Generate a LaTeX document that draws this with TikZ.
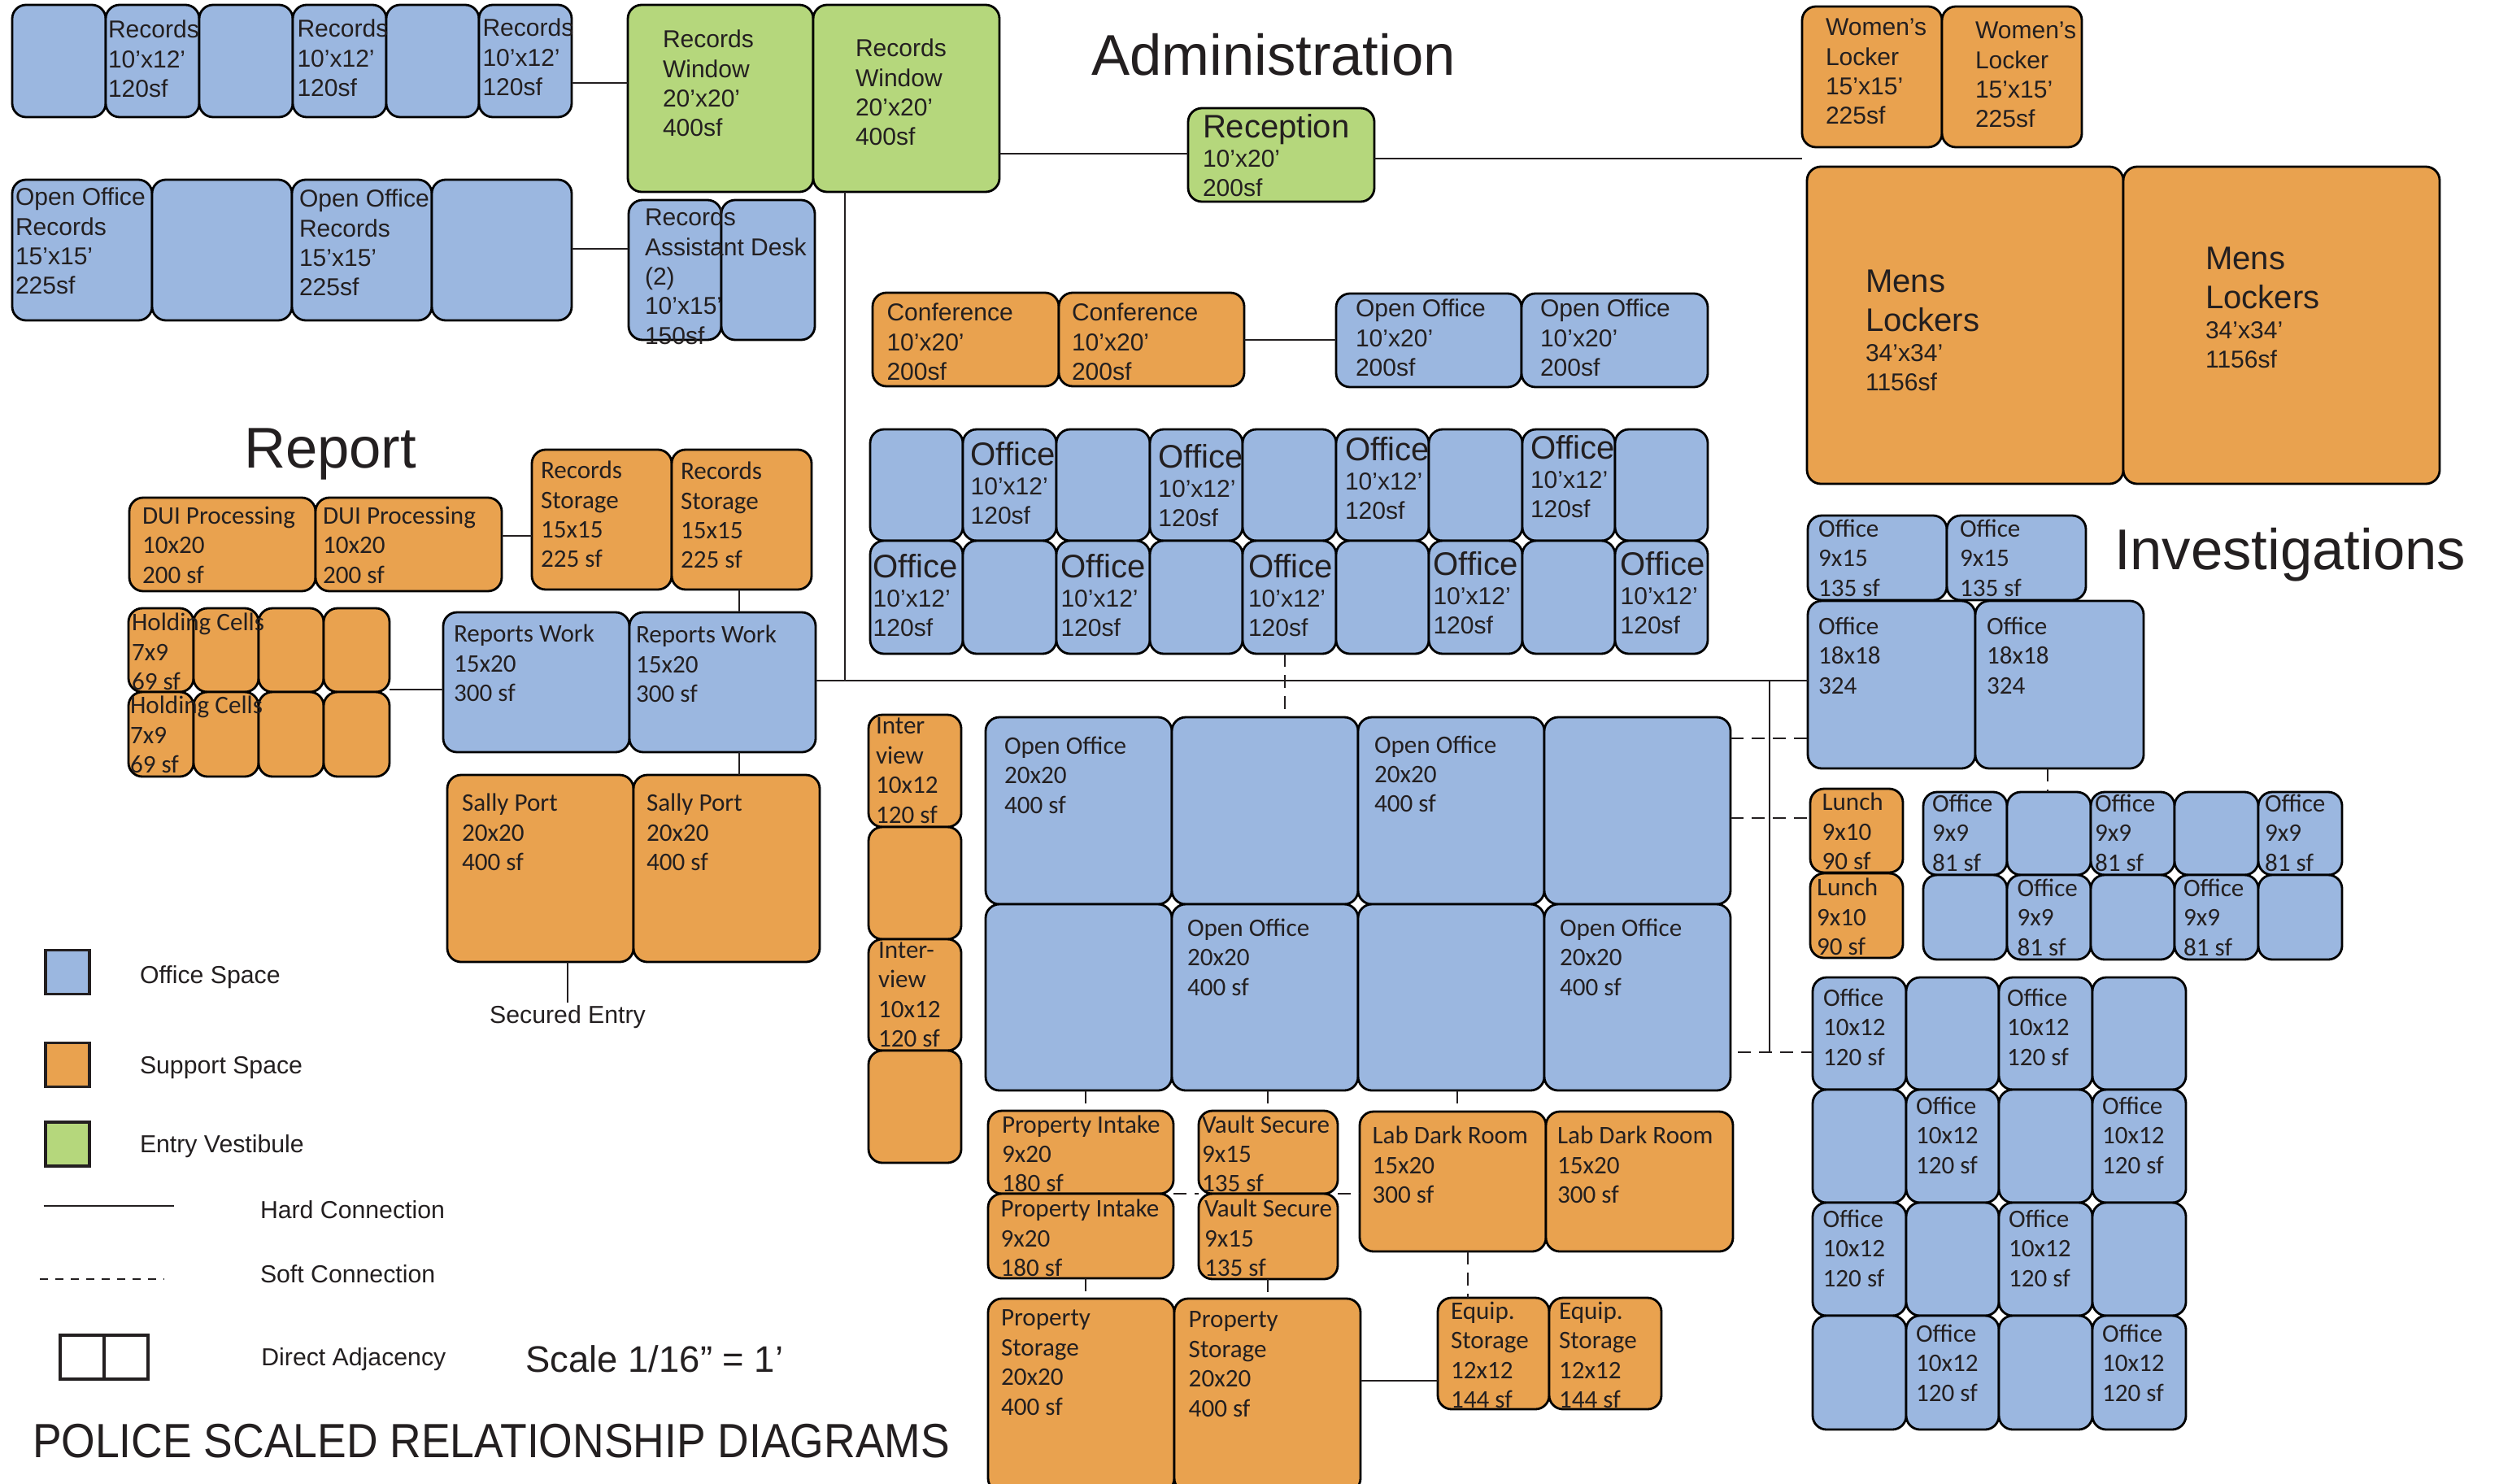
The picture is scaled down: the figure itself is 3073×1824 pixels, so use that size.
\documentclass[tikz,border=0pt]{standalone}
\usepackage{fontspec}
\setmainfont{Liberation Sans}
\newfontfamily\myr{Carlito}
\newfontfamily\titlefnt[FakeStretch=0.905]{Liberation Sans}
\definecolor{ink}{RGB}{35,31,32}
\definecolor{officeblue}{RGB}{155,183,224}
\definecolor{supportorange}{RGB}{233,162,79}
\definecolor{entrygreen}{RGB}{181,215,124}
\newcommand{\bigoff}[1]{{\fontsize{11.4}{10.35}\selectfont #1}}
\newcommand{\room}[6]{\node[room,#6,minimum width={(#4-#2)*0.01cm},minimum height={(#5-#3)*0.01cm}] (#1) at ({(#2+#4)/2},{(#3+#5)/2}) {};}
\tikzset{
  room/.style={draw=black,line width=0.8pt,rounded corners=0.17cm,inner sep=0pt,outer sep=0pt},
  blueroom/.style={fill=officeblue},
  orangeroom/.style={fill=supportorange},
  greenroom/.style={fill=entrygreen},
  swatch/.style={draw=ink,line width=0.9pt,inner sep=0pt,outer sep=0pt,minimum width=0.54cm,minimum height=0.54cm},
  atext/.style={anchor=north west,inner sep=0pt,outer sep=0pt,align=left,text=ink,font=\fontsize{8.54}{10.35}\selectfont},
  mtext/.style={anchor=north west,inner sep=0pt,outer sep=0pt,align=left,text=ink,font=\myr\fontsize{8.85}{10.35}\selectfont},
  keytext/.style={anchor=base west,inner sep=0pt,outer sep=0pt,text=ink,font=\fontsize{8.6}{10.5}\selectfont},
  headtext/.style={anchor=base west,inner sep=0pt,outer sep=0pt,text=ink,font=\fontsize{20.1}{24}\selectfont},
  hard/.style={draw=ink,line width=0.7pt},
  soft/.style={draw=ink,line width=0.7pt,dash pattern=on 0.16cm off 0.1cm},
}
\begin{document}
\begin{tikzpicture}[x=0.01cm,y=-0.01cm]
\useasboundingbox (0,0) rectangle (3073,1824);
\foreach\i/\xa/\xb in {1/15/130,2/130/245,3/245/360,4/360/475,5/475/589,6/589/703} {
  \room{rec\i}{\xa}{6}{\xb}{144}{blueroom}
}
\foreach\i/\xa/\xb in {1/15/187,2/187/359,3/359/531,4/531/703} {
  \room{orec\i}{\xa}{221}{\xb}{394}{blueroom}
}
\room{win1}{772}{6}{1000}{236}{greenroom}
\room{win2}{1000}{6}{1229}{236}{greenroom}
\room{desk1}{773}{246}{887}{418}{blueroom}
\room{desk2}{887}{246}{1002}{418}{blueroom}
\room{recep}{1461}{133}{1690}{248}{greenroom}
\room{conf1}{1073}{360}{1302}{475}{orangeroom}
\room{conf2}{1302}{360}{1530}{475}{orangeroom}
\room{aoo1}{1643}{361}{1871}{476}{blueroom}
\room{aoo2}{1871}{361}{2100}{476}{blueroom}
\foreach\i/\xa/\xb in {1/1070/1184,2/1184/1299,3/1299/1414,4/1414/1528,5/1528/1643,6/1643/1757,7/1757/1872,8/1872/1986,9/1986/2100} {
  \room{aoff1\i}{\xa}{528}{\xb}{665}{blueroom}
  \room{aoff2\i}{\xa}{665}{\xb}{804}{blueroom}
}
\room{wom1}{2216}{8}{2388}{181}{orangeroom}
\room{wom2}{2388}{8}{2560}{181}{orangeroom}
\room{men1}{2222}{205}{2611}{595}{orangeroom}
\room{men2}{2611}{205}{3000}{595}{orangeroom}
\room{dui1}{159}{612}{388}{727}{orangeroom}
\room{dui2}{388}{612}{617}{727}{orangeroom}
\room{rst1}{654}{553}{826}{725}{orangeroom}
\room{rst2}{826}{553}{998}{725}{orangeroom}
\foreach\i/\xa/\xb in {1/158/238,2/238/318,3/318/398,4/398/479} {
  \room{holda\i}{\xa}{748}{\xb}{851}{orangeroom}
  \room{holdb\i}{\xa}{851}{\xb}{955}{orangeroom}
}
\room{rep1}{545}{753}{774}{925}{blueroom}
\room{rep2}{774}{753}{1003}{925}{blueroom}
\room{sally1}{550}{953}{779}{1183}{orangeroom}
\room{sally2}{779}{953}{1008}{1183}{orangeroom}
\foreach\i/\ya/\yb in {1/879/1017,2/1017/1155,3/1155/1292,4/1292/1430} {
  \room{inter\i}{1068}{\ya}{1182}{\yb}{orangeroom}
}
\foreach\i/\xa/\xb in {1/1212/1441,2/1441/1670,3/1670/1899,4/1899/2128} {
  \room{ooa\i}{\xa}{882}{\xb}{1112}{blueroom}
  \room{oob\i}{\xa}{1112}{\xb}{1341}{blueroom}
}
\room{pin1}{1215}{1366}{1443}{1468}{orangeroom}
\room{pin2}{1215}{1468}{1443}{1572}{orangeroom}
\room{vlt1}{1474}{1366}{1645}{1468}{orangeroom}
\room{vlt2}{1474}{1468}{1645}{1573}{orangeroom}
\room{lab1}{1672}{1367}{1901}{1539}{orangeroom}
\room{lab2}{1901}{1367}{2131}{1539}{orangeroom}
\room{pst1}{1215}{1597}{1444}{1835}{orangeroom}
\room{pst2}{1444}{1597}{1673}{1835}{orangeroom}
\room{eqp1}{1768}{1596}{1905}{1733}{orangeroom}
\room{eqp2}{1905}{1596}{2043}{1733}{orangeroom}
\room{ofs1}{2223}{634}{2394}{738}{blueroom}
\room{ofs2}{2394}{634}{2565}{738}{blueroom}
\room{big1}{2223}{739}{2429}{945}{blueroom}
\room{big2}{2429}{739}{2636}{945}{blueroom}
\room{lun1}{2226}{970}{2340}{1073}{orangeroom}
\room{lun2}{2226}{1074}{2340}{1178}{orangeroom}
\foreach\i/\xa/\xb in {1/2365/2468,2/2468/2571,3/2571/2674,4/2674/2777,5/2777/2880} {
  \room{nina\i}{\xa}{974}{\xb}{1076}{blueroom}
  \room{ninb\i}{\xa}{1076}{\xb}{1180}{blueroom}
}
\foreach\i/\xa/\xb in {1/2229/2344,2/2344/2458,3/2458/2573,4/2573/2688} {
  \room{tena\i}{\xa}{1202}{\xb}{1340}{blueroom}
  \room{tenb\i}{\xa}{1340}{\xb}{1479}{blueroom}
  \room{tenc\i}{\xa}{1479}{\xb}{1618}{blueroom}
  \room{tend\i}{\xa}{1618}{\xb}{1758}{blueroom}
}
\draw[hard] (rec6.east |- 0,102) -- (win1.west |- 0,102);
\draw[hard] (orec4.east |- 0,306) -- (desk1.west |- 0,306);
\draw[hard] (win2.east |- 0,189) -- (recep.west |- 0,189);
\draw[hard] (recep.east |- 0,195) -- (wom1.west |- 0,195);
\draw[hard] (conf2.east |- 0,418) -- (aoo1.west |- 0,418);
\draw[hard] (dui2.east |- 0,659) -- (rst1.west |- 0,659);
\draw[hard] (909,725) -- (909,753);
\draw[hard] (holda4.east |- 0,848) -- (rep1.west |- 0,848);
\draw[hard] (909,925) -- (909,953);
\draw[hard] (rep2.east |- 0,837) -- (big1.west |- 0,837);
\draw[hard] (1039,236) -- (1039,837);
\draw[hard] (2176,837) -- (2176,1294);
\draw[hard] (pst2.east |- 0,1698) -- (eqp1.west |- 0,1698);
\coordinate (secured) at (698,1233);
\draw[hard] (698,1183) -- (secured);
\draw[soft] (1580,804) -- (1580,882);
\draw[soft] (ooa4.east |- 0,908) -- (big1.west |- 0,908);
\draw[soft] (ooa4.east |- 0,1006) -- (lun1.west |- 0,1006);
\draw[soft] (2137,1294) -- (tena1.west |- 0,1294);
\draw[soft] (1335,1341) -- (1335,1366);
\draw[soft] (1559,1341) -- (1559,1366);
\draw[soft] (1792,1341) -- (1792,1367);
\draw[soft] (pin1.east |- 0,1468) -- (vlt1.west |- 0,1468);
\draw[soft] (vlt1.east |- 0,1468) -- (lab1.west |- 0,1468);
\draw[soft] (1335,1572) -- (1335,1597);
\draw[soft] (1559,1573) -- (1559,1597);
\draw[soft] (1805,1539) -- (1805,1596);
\draw[soft] (big2.south -| 2518,0) -- (2518,974);
\foreach\n/\x/\y in {a/133/25,b/365.5/24,c/593.5/23} {
  \node[atext] (rect\n) at (\x,\y) {Records\\10’x12’\\120sf};
}
\node[atext] (wint1) at (815,37) {Records\\Window\\20’x20’\\400sf};
\node[atext] (wint2) at (1052,48) {Records\\Window\\20’x20’\\400sf};
\node[atext] (orect1) at (19,231) {Open Office\\Records\\15’x15’\\225sf};
\node[atext] (orect2) at (368,233) {Open Office\\Records\\15’x15’\\225sf};
\node[atext] (deskt) at (793,256) {Records\\Assistant Desk\\(2)\\10’x15’\\150sf};
\node[atext] (recept) at (1479,140) {\bigoff{Reception}\\10’x20’\\200sf};
\node[atext] (conft1) at (1090.5,373) {Conference\\10’x20’\\200sf};
\node[atext] (conft2) at (1318,373) {Conference\\10’x20’\\200sf};
\node[atext] (aoot1) at (1667,368) {Open Office\\10’x20’\\200sf};
\node[atext] (aoot2) at (1894,368) {Open Office\\10’x20’\\200sf};
\foreach\n/\x/\y in {a/1193.6/543,b/1424.4/546,c/1654/537,d/1882/535,e/1073.7/681,f/1304.5/681,g/1535/681,h/1762.5/678,i/1992.6/678} {
  \node[atext] (aofft\n) at (\x,\y) {\bigoff{Office}\\10’x12’\\120sf};
}
\node[atext] (womt1) at (2245,23) {Women’s\\Locker\\15’x15’\\225sf};
\node[atext] (womt2) at (2429,27) {Women’s\\Locker\\15’x15’\\225sf};
\node[atext] (ment1) at (2294,332) {\bigoff{Mens}\\[0.12cm]\bigoff{Lockers}\\34’x34’\\1156sf};
\node[atext] (ment2) at (2712,304) {\bigoff{Mens}\\[0.12cm]\bigoff{Lockers}\\34’x34’\\1156sf};
\node[mtext] (duit1) at (175,623) {DUI Processing\\10x20\\200 sf};
\node[mtext] (duit2) at (397,623) {DUI Processing\\10x20\\200 sf};
\node[mtext] (rstt1) at (665,567) {Records\\Storage\\15x15\\225 sf};
\node[mtext] (rstt2) at (837,568) {Records\\Storage\\15x15\\225 sf};
\node[mtext] (holdt1) at (162,754) {Holding Cells\\7x9\\69 sf};
\node[mtext] (holdt2) at (160,856) {Holding Cells\\7x9\\69 sf};
\node[mtext] (rept1) at (558,768) {Reports Work\\15x20\\300 sf};
\node[mtext] (rept2) at (782,769) {Reports Work\\15x20\\300 sf};
\node[mtext] (sallyt1) at (568,976) {Sally Port\\20x20\\400 sf};
\node[mtext] (sallyt2) at (795,976) {Sally Port\\20x20\\400 sf};
\node[mtext] (intert1) at (1077,883) {Inter\\view\\10x12\\120 sf};
\node[mtext] (intert2) at (1080,1158.6) {Inter-\\view\\10x12\\120 sf};
\foreach\n/\x/\y in {a/1235/906,b/1690/904.5,c/1460/1130,d/1918/1130} {
  \node[mtext] (oot\n) at (\x,\y) {Open Office\\20x20\\400 sf};
}
\node[mtext] (pint1) at (1232,1371.5) {Property Intake\\9x20\\180 sf};
\node[mtext] (pint2) at (1230.6,1475) {Property Intake\\9x20\\180 sf};
\node[mtext] (vltt1) at (1478,1371.5) {Vault Secure\\9x15\\135 sf};
\node[mtext] (vltt2) at (1481,1475) {Vault Secure\\9x15\\135 sf};
\node[mtext] (labt1) at (1687.5,1385) {Lab Dark Room\\15x20\\300 sf};
\node[mtext] (labt2) at (1915,1385) {Lab Dark Room\\15x20\\300 sf};
\node[mtext] (pstt1) at (1231,1611) {Property\\Storage\\20x20\\400 sf};
\node[mtext] (pstt2) at (1461.7,1613) {Property\\Storage\\20x20\\400 sf};
\node[mtext] (eqpt1) at (1784,1601) {Equip.\\Storage\\12x12\\144 sf};
\node[mtext] (eqpt2) at (1917,1601) {Equip.\\Storage\\12x12\\144 sf};
\node[mtext] (ofst1) at (2236,639) {Office\\9x15\\135 sf};
\node[mtext] (ofst2) at (2410,639) {Office\\9x15\\135 sf};
\node[mtext] (bigt1) at (2236,759) {Office\\18x18\\324};
\node[mtext] (bigt2) at (2443,759) {Office\\18x18\\324};
\node[mtext] (lunt1) at (2240.5,975) {Lunch\\9x10\\90 sf};
\node[mtext] (lunt2) at (2234,1080) {Lunch\\9x10\\90 sf};
\foreach\n/\x/\y in {a/2376/977,b/2576/977,c/2785/977,d/2480.5/1081,e/2685/1081} {
  \node[mtext] (nint\n) at (\x,\y) {Office\\9x9\\81 sf};
}
\foreach\n/\x/\y in {a/2242/1216,b/2468/1216,c/2356/1349,d/2585/1349,e/2241.6/1488,f/2470/1488,g/2356/1629,h/2585/1629} {
  \node[mtext] (tent\n) at (\x,\y) {Office\\10x12\\120 sf};
}
\node[headtext] (admin) at (1342,92.6) {Administration};
\node[headtext] (report) at (300,575) {Report};
\node[headtext] (invest) at (2600,700.5) {Investigations};
\node[keytext,anchor=base] (securedt) at (698,1258) {Secured Entry};
\node[swatch,fill=officeblue] (keyoffice) at (83,1195.5) {};
\node[swatch,fill=supportorange] (keysupport) at (83,1309.7) {};
\node[swatch,fill=entrygreen] (keyentry) at (83,1407) {};
\node[keytext] (keyofficet) at (172,1209) {Office Space};
\node[keytext] (keysupportt) at (172,1320) {Support Space};
\node[keytext] (keyentryt) at (172,1417) {Entry Vestibule};
\coordinate (hardl) at (53.6,1483);
\coordinate (hardr) at (213.5,1483);
\draw[draw=ink,line width=0.8pt] (hardl) -- (hardr);
\node[keytext] (keyhard) at (320,1498) {Hard Connection};
\coordinate (softl) at (49,1572.7);
\coordinate (softr) at (202,1572.7);
\draw[draw=ink,line width=0.6pt,dash pattern=on 0.1cm off 0.09cm] (softl) -- (softr);
\node[keytext] (keysoft) at (320,1577) {Soft Connection};
\node[swatch] (keyadj1) at (101,1669) {};
\node[swatch] (keyadj2) at (155,1669) {};
\node[keytext] (keyadj) at (321.4,1679) {Direct Adjacency};
\node[keytext,font=\fontsize{12.9}{16}\selectfont] (scale) at (646.7,1687) {Scale 1/16” = 1’};
\node[keytext,font=\titlefnt\fontsize{16.8}{20}\selectfont] (maintitle) at (40,1792) {POLICE SCALED RELATIONSHIP DIAGRAMS};
\end{tikzpicture}
\end{document}
